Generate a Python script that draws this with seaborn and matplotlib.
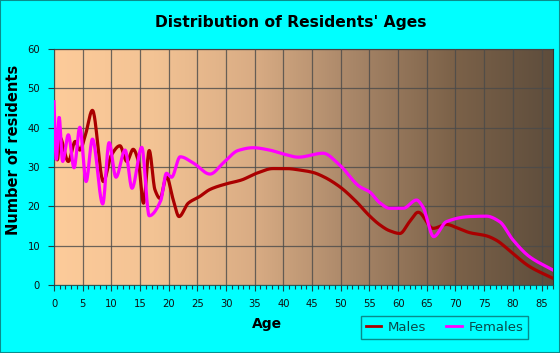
import numpy as np
import pandas as pd
import matplotlib
matplotlib.use("Agg")
import matplotlib.pyplot as plt
import seaborn as sns
from matplotlib.colors import LinearSegmentedColormap
from matplotlib.patches import Rectangle
from matplotlib.lines import Line2D

# ---- data ----
male_ages = [0, 0.6, 1, 2.5, 3.7, 4.5, 5.4, 6.7, 8.6, 10, 11.5, 12.7, 13.8, 14.7,
             15.6, 16.6, 17.6, 18.5, 19.6, 20.8, 21.8, 23.4, 25.4, 27.2, 30, 32.7,
             35.3, 38.2, 40.5, 43, 45.2, 46.9, 49.8, 52.7, 55, 56.8, 58.5, 60.3,
             62, 63.5, 66.1, 68.4, 70.5, 72.5, 75.4, 77.1, 80, 82.9, 87]
male_vals = [38.7, 31.8, 37.6, 31.4, 36.5, 34.3, 37.7, 44.4, 26.3, 33.0, 35.4, 31.4,
             34.5, 31.5, 20.8, 34.2, 24.2, 22.0, 27.6, 21.6, 17.4, 20.8, 22.5, 24.3,
             25.7, 26.7, 28.4, 29.6, 29.6, 29.2, 28.6, 27.6, 25.0, 21.2, 17.6, 15.3,
             13.8, 13.1, 16.1, 18.5, 14.4, 15.4, 14.4, 13.3, 12.5, 11.4, 8.0, 4.7, 1.7]

female_ages = [0, 0.4, 0.9, 1.5, 2.5, 3.5, 4.5, 5.6, 6.7, 8.5, 9.6, 10.8, 12.4, 13.6,
               15.3, 16.6, 18.6, 19.6, 20.5, 22, 24.3, 27.2, 29.5, 32.1, 34.7, 37.6,
               40, 42.6, 46.9, 49.8, 53.3, 55, 56.8, 58.5, 60.9, 63.2, 64.3, 66.2,
               68.4, 72.5, 75.4, 77.7, 80, 82.9, 87]
female_vals = [46.6, 31.8, 42.7, 31.4, 38.2, 29.8, 40.1, 26.3, 37.1, 20.6, 36.2, 27.4,
               34.3, 24.6, 35.0, 17.6, 21.4, 28.4, 27.4, 32.6, 31.0, 28.2, 31.0, 34.2,
               34.9, 34.3, 33.3, 32.5, 33.5, 30.5, 25.0, 23.7, 20.9, 19.5, 19.5, 21.6,
               19.9, 12.3, 16.1, 17.4, 17.5, 16.1, 11.5, 7.2, 3.8]

x_ticks = list(range(0, 90, 5))
y_ticks = list(range(0, 70, 10))


def pchip(x, y, xs):
    x = np.asarray(x, float); y = np.asarray(y, float)
    h = np.diff(x); d = np.diff(y) / h
    n = len(x); m = np.zeros(n)
    for k in range(1, n - 1):
        if d[k - 1] * d[k] > 0:
            w1 = 2 * h[k] + h[k - 1]; w2 = h[k] + 2 * h[k - 1]
            m[k] = (w1 + w2) / (w1 / d[k - 1] + w2 / d[k])
    m[0] = d[0]; m[-1] = d[-1]
    idx = np.clip(np.searchsorted(x, xs) - 1, 0, n - 2)
    t = (xs - x[idx]) / h[idx]
    h00 = 2 * t**3 - 3 * t**2 + 1; h10 = t**3 - 2 * t**2 + t
    h01 = -2 * t**3 + 3 * t**2; h11 = t**3 - t**2
    return h00 * y[idx] + h10 * h[idx] * m[idx] + h01 * y[idx + 1] + h11 * h[idx] * m[idx + 1]


xs = np.linspace(0, 87, 1200)
df = pd.concat([
    pd.DataFrame({"Age": xs, "Residents": pchip(male_ages, male_vals, xs), "Sex": "Males"}),
    pd.DataFrame({"Age": xs, "Residents": pchip(female_ages, female_vals, xs), "Sex": "Females"}),
])

fig = plt.figure(figsize=(5.6, 3.53), dpi=100)
fig.patch.set_facecolor("#00FFFF")
fig.patches.append(Rectangle((0, 0), 1, 1, transform=fig.transFigure, fill=False,
                             edgecolor="#0A8C8C", lw=1.5))
ax = fig.add_axes([54 / 560, 1 - 285 / 353, (553 - 54) / 560, (285 - 49) / 353])

cmap = LinearSegmentedColormap.from_list("bg", ["#FDCB9A", "#F3C394", "#D9AC84",
                                                 "#A88668", "#7C6249", "#5E4D3C"])
grad = np.linspace(0, 1, 256).reshape(1, -1)
ax.imshow(grad, extent=[0, 87, 0, 60], aspect="auto", cmap=cmap, zorder=0)

sns.lineplot(data=df, x="Age", y="Residents", hue="Sex", sort=False,
             palette={"Males": "#AA0000", "Females": "#FF00FF"},
             linewidth=2.3, ax=ax, legend=False, zorder=3)

ax.set_xlim(0, 87)
ax.set_ylim(0, 60)
ax.set_xticks(x_ticks)
ax.set_xticks(range(0, 88), minor=True)
ax.set_yticks(y_ticks)
ax.grid(True, which="major", color="#4A4A4A", lw=0.9, alpha=0.8, zorder=1)
ax.set_axisbelow(False)
for gl in ax.get_xgridlines() + ax.get_ygridlines():
    gl.set_zorder(1)
ax.tick_params(axis="both", which="major", labelsize=7.2, colors="#1E4040",
               length=4, width=0.8, direction="out", pad=6)
ax.tick_params(axis="x", which="minor", length=3, width=0.8, color="#1E4040")
for lab in ax.get_xticklabels() + ax.get_yticklabels():
    lab.set_color("#111111")
for s in ["left", "bottom"]:
    ax.spines[s].set_color("#1E6060")
for s in ["top", "right"]:
    ax.spines[s].set_color("#333333")

ax.set_xlabel("")
ax.set_ylabel("")
fig.text(267 / 560, 1 - 324 / 353, "Age", ha="center", va="center",
         fontsize=10, fontweight="bold", family="DejaVu Sans")
fig.text(14 / 560, 1 - 150 / 353, "Number of residents", ha="center", va="center",
         rotation=90, fontsize=10.5, fontweight="bold", family="DejaVu Sans")
fig.text(291 / 560, 1 - 23 / 353, "Distribution of Residents' Ages", ha="center",
         va="center", fontsize=11.2, fontweight="bold", family="DejaVu Sans")

handles = [Line2D([], [], color="#AA0000", lw=2),
           Line2D([], [], color="#FF00FF", lw=2)]
leg = fig.legend(handles, ["Males", "Females"], loc="center",
                 bbox_to_anchor=(444.5 / 560, 1 - 327.5 / 353), ncol=2,
                 fontsize=9.5, frameon=True, fancybox=False, handlelength=1.2,
                 handletextpad=0.5, columnspacing=1.5, borderpad=0.35)
leg.get_frame().set_facecolor("#00FFFF")
leg.get_frame().set_edgecolor("#0A7070")
leg.get_frame().set_linewidth(1)
for t in leg.get_texts():
    t.set_color("#0A4A4A")

fig.savefig("out.png", dpi=100, facecolor=fig.get_facecolor())
